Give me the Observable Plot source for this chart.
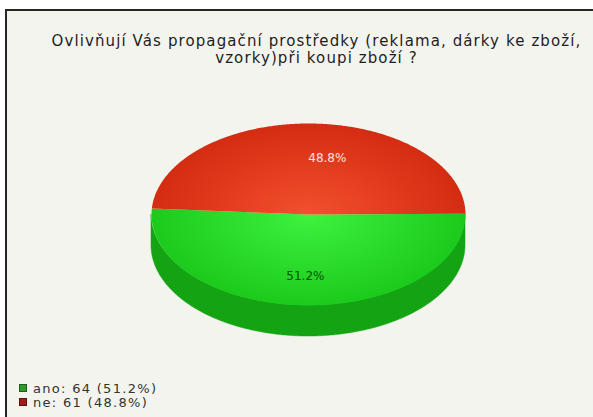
<!DOCTYPE html>
<html><head><meta charset="utf-8">
<script src="https://cdn.jsdelivr.net/npm/d3@7"></script>
<script src="https://cdn.jsdelivr.net/npm/@observablehq/plot@0.6"></script>
<style>
html,body{margin:0;padding:0;background:#fff;}
#wrap{position:relative;width:593px;height:417px;overflow:hidden;font-family:"DejaVu Sans",sans-serif;}
#box{position:absolute;left:5px;top:9px;width:600px;height:420px;border-top:2px solid #262626;border-left:2px solid #262626;background:#f4f4ee;}
#chart{position:absolute;left:0;top:0;}
#title{position:absolute;left:0;width:593px;top:33px;text-align:center;font-size:15px;line-height:17px;color:#1e1e1e;letter-spacing:1.1px;padding-left:40px;box-sizing:border-box;}
#legend{position:absolute;left:19px;top:381px;font-size:13px;color:#333;letter-spacing:1.3px;}
.item{display:flex;align-items:center;height:14px;white-space:nowrap;}
.sw{width:6px;height:6px;margin-right:6px;border:1px solid;}
</style>
</head><body>
<div id="wrap">
  <div id="box"></div>
  <div id="chart"></div>
  <div id="title"></div>
  <div id="legend"></div>
</div>
<script>
// ---- data ----
const titleLines = ["Ovlivňují Vás propagační prostředky (reklama, dárky ke zboží,", "vzorky)při koupi zboží ?"];
const categories = ["ano", "ne"];
const counts = [64, 61];
const percents = [51.2, 48.8];

// ---- styles / layout ----
const topFill = {ano: "url(#gradGreen)", ne: "url(#gradRed)"};
const sideFill = {ano: "#13a313", ne: "#a8200c"};
const labelColor = {ano: "#0d4d0d", ne: "#fde3da"};
const legendFill = {ano: ["#2f9a2f", "#1b5e1b"], ne: ["#a31c1c", "#5c1010"]};
const W = 593, H = 417;
const cx = 308, cy = 214, rx = 157, ry = 91, depthPx = 31;
const depth = depthPx / ry;
const start = 89.5 * Math.PI / 180;

const rows = categories.map((c, i) => ({cat: c, count: counts[i], pct: percents[i]}));
const arcs = d3.pie().sort(null).value(d => d.count).startAngle(start).endAngle(start + 2 * Math.PI)(rows);

const step = Math.PI / 360;
function sample(a0, a1) {
  const pts = [];
  const n = Math.max(1, Math.ceil((a1 - a0) / step));
  for (let k = 0; k <= n; k++) pts.push(a0 + (a1 - a0) * k / n);
  return pts;
}
// top faces
const faces = [];
arcs.forEach(a => {
  faces.push({cat: a.data.cat, x: 0, y: 0});
  sample(a.startAngle, a.endAngle).forEach(t => faces.push({cat: a.data.cat, x: Math.sin(t), y: Math.cos(t)}));
});
// front side (visible lower half: d3 angles PI/2..3PI/2 mod 2PI)
const sides = [];
arcs.forEach(a => {
  for (let off = -2 * Math.PI; off <= 2 * Math.PI; off += 2 * Math.PI) {
    const lo = Math.max(a.startAngle, Math.PI / 2 + off), hi = Math.min(a.endAngle, 3 * Math.PI / 2 + off);
    if (hi > lo) sample(lo, hi).forEach(t => sides.push({cat: a.data.cat, seg: a.data.cat + off, x: Math.sin(t), y: Math.cos(t)}));
  }
});
const labels = arcs.map(a => {
  const m = (a.startAngle + a.endAngle) / 2;
  const r = a.data.cat === "ano" ? 0.68 : 0.62;
  return {cat: a.data.cat, x: r * Math.sin(m), y: r * Math.cos(m), text: a.data.pct.toFixed(1) + "%"};
});

const marks = [];
categories.forEach(c => {
  marks.push(Plot.areaY(sides.filter(d => d.cat === c), {x: "x", y1: d => d.y - depth, y2: "y", z: "seg", fill: sideFill[c], stroke: sideFill[c], strokeWidth: 0.5}));
});
categories.forEach(c => {
  marks.push(Plot.line(faces.filter(d => d.cat === c), {x: "x", y: "y", fill: topFill[c], stroke: "none", curve: "linear-closed"}));
});
categories.forEach(c => {
  marks.push(Plot.text(labels.filter(d => d.cat === c), {x: "x", y: "y", text: "text", fill: labelColor[c], fontSize: 12, fontFamily: "DejaVu Sans", dx: c === "ne" ? 16 : 0}));
});

const plot = Plot.plot({
  width: W, height: H, margin: 0,
  style: {background: "transparent", overflow: "visible"},
  x: {domain: [-1, 1], range: [cx - rx, cx + rx], axis: null},
  y: {domain: [-1, 1], range: [cy + ry, cy - ry], axis: null},
  marks
});
const px = plot.scale("x").apply(0), py = plot.scale("y").apply(0);
const defs = d3.select(plot).insert("defs", ":first-child");
function grad(id, inner, outer) {
  const g = defs.append("radialGradient").attr("id", id).attr("gradientUnits", "userSpaceOnUse")
    .attr("cx", px).attr("cy", py).attr("r", rx)
    .attr("gradientTransform", `translate(${px},${py}) scale(1,${ry / rx}) translate(${-px},${-py})`);
  g.append("stop").attr("offset", "0%").attr("stop-color", inner);
  g.append("stop").attr("offset", "100%").attr("stop-color", outer);
}
grad("gradGreen", "#3ef23e", "#1cca1c");
grad("gradRed", "#f2502e", "#d42c12");
document.getElementById("chart").appendChild(plot);

document.getElementById("title").innerHTML = titleLines.join("<br>");
const leg = document.getElementById("legend");
rows.forEach(r => {
  const it = document.createElement("div"); it.className = "item";
  const sw = document.createElement("span"); sw.className = "sw";
  sw.style.background = legendFill[r.cat][0]; sw.style.borderColor = legendFill[r.cat][1];
  it.appendChild(sw);
  it.appendChild(document.createTextNode(`${r.cat}: ${r.count} (${r.pct.toFixed(1)}%)`));
  leg.appendChild(it);
});
</script>
</body></html>
